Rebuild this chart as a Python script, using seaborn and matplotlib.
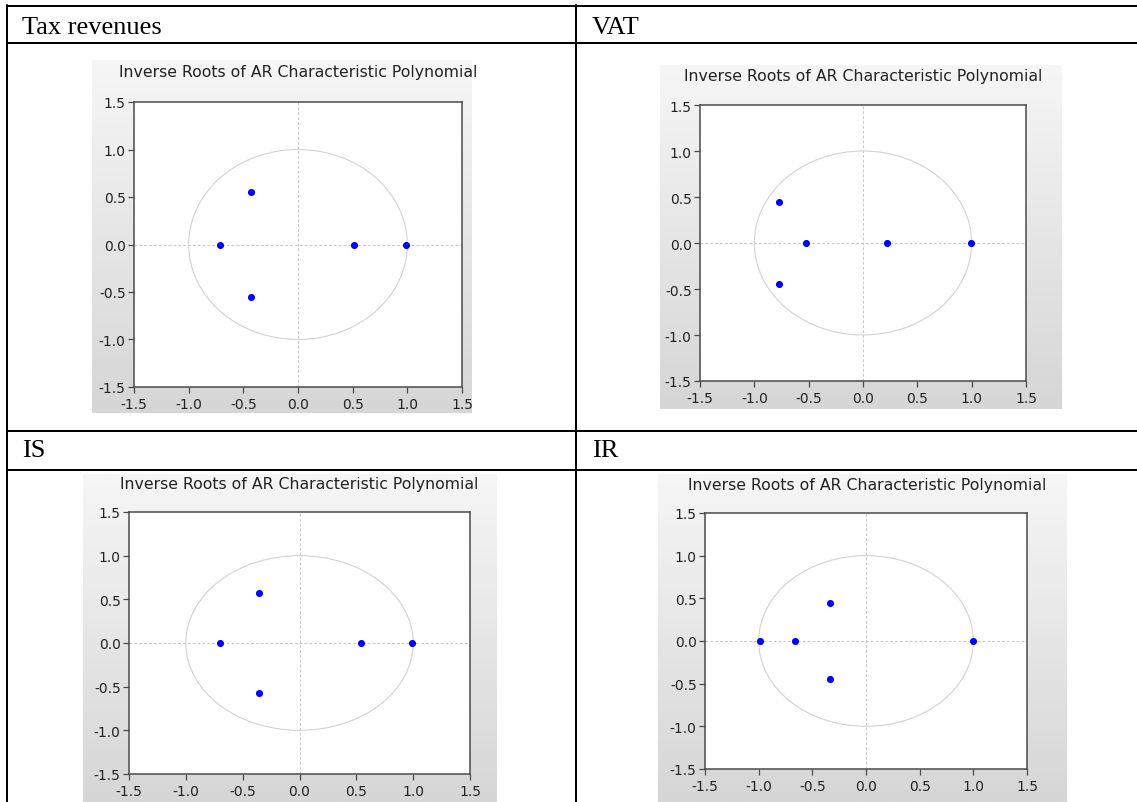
import numpy as np
import pandas as pd
import matplotlib
matplotlib.use("Agg")
import matplotlib.pyplot as plt
from matplotlib.lines import Line2D
from matplotlib.patches import Circle
from matplotlib.colors import LinearSegmentedColormap
import seaborn as sns

# ---- data (inverse roots: real / imaginary parts) ----
headers = ["Tax revenues", "VAT", "IS", "IR"]
tax_re = [-0.71, -0.43, -0.43, 0.51, 0.99]
tax_im = [0.0, 0.55, -0.55, 0.0, 0.0]
vat_re = [-0.77, -0.77, -0.52, 0.22, 0.99]
vat_im = [0.45, -0.45, 0.0, 0.0, 0.0]
is_re = [-0.70, -0.36, -0.36, 0.54, 0.99]
is_im = [0.0, 0.57, -0.57, 0.0, 0.0]
ir_re = [-0.99, -0.66, -0.34, -0.34, 1.0]
ir_im = [0.0, 0.0, 0.44, -0.44, 0.0]
tick_values = [-1.5, -1.0, -0.5, 0.0, 0.5, 1.0, 1.5]
tick_labels = ["-1.5", "-1.0", "-0.5", "0.0", "0.5", "1.0", "1.5"]
chart_title = "Inverse Roots of AR Characteristic Polynomial"

sns.set_style("white")
plt.rcParams["font.family"] = ["DejaVu Sans"]
plt.rcParams["axes.unicode_minus"] = False

W, H = 1137, 803
fig = plt.figure(figsize=(W / 100, H / 100), dpi=100)
fig.patch.set_facecolor("white")


def fx(x):
    return x / W


def fy(y):
    return 1 - y / H


def rect(x0, y0, x1, y1):
    return [fx(x0), fy(y1), (x1 - x0) / W, (y1 - y0) / H]


# ---- table lines ----
lw_tab = 2.0 * 72 / 100
for y in [6.7, 44.3, 431.5, 470.8]:
    fig.add_artist(Line2D([fx(7), 1.0], [fy(y), fy(y)], color="black", lw=lw_tab))
for x in [7, 576.3]:
    fig.add_artist(Line2D([fx(x), fx(x)], [fy(6), 0.0], color="black", lw=lw_tab))

header_pos = [(22, 28), (592, 28), (22, 451), (592, 451)]
for txt, (x, y) in zip(headers, header_pos):
    fig.text(fx(x), fy(y), txt, family="Liberation Serif", fontsize=19,
             ha="left", va="center", color="black")

# ---- panels ----
panels = [
    dict(bg=(92, 61, 472, 414), ax=(134, 103, 462, 388), title=(298, 72), re=tax_re, im=tax_im),
    dict(bg=(660, 66, 1062, 410), ax=(700, 106, 1026, 382), title=(863, 76), re=vat_re, im=vat_im),
    dict(bg=(83, 475, 496, 803), ax=(129, 513, 470, 775), title=(299, 485), re=is_re, im=is_im),
    dict(bg=(658, 475, 1066, 803), ax=(705, 514, 1027, 770), title=(867, 486), re=ir_re, im=ir_im),
]

grad = np.linspace(0, 1, 256).reshape(-1, 1)
gcmap = LinearSegmentedColormap.from_list("g", ["#f6f6f6", "#d6d6d6"])

for p in panels:
    bga = fig.add_axes(rect(*p["bg"]), zorder=0)
    bga.imshow(grad, aspect="auto", cmap=gcmap, extent=[0, 1, 1, 0])
    bga.set_axis_off()

    ax = fig.add_axes(rect(*p["ax"]), zorder=2)
    ax.set_facecolor("white")
    ax.set_xlim(-1.5, 1.5)
    ax.set_ylim(-1.5, 1.5)
    ax.axhline(0, color="#c8c8c8", lw=0.7, ls=(0, (3, 2)), zorder=1)
    ax.axvline(0, color="#c8c8c8", lw=0.7, ls=(0, (3, 2)), zorder=1)
    ax.add_patch(Circle((0, 0), 1.0, fill=False, ec="#d2d2d2", lw=0.8, zorder=1))
    df = pd.DataFrame({"re": p["re"], "im": p["im"]})
    sns.scatterplot(data=df, x="re", y="im", ax=ax, color="#0000ff", s=26,
                    linewidth=0, marker="o", zorder=3)
    ax.set_xlabel("")
    ax.set_ylabel("")
    ax.set_xticks(tick_values)
    ax.set_xticklabels(tick_labels)
    ax.set_yticks(tick_values)
    ax.set_yticklabels(tick_labels)
    for s in ax.spines.values():
        s.set_color("#4a4a4a")
        s.set_linewidth(1.1)
    ax.tick_params(axis="both", which="both", direction="out", length=4, width=0.9,
                   color="#4a4a4a", labelsize=10, labelcolor="#222222", pad=2,
                   bottom=True, left=True, top=False, right=False)
    ax.tick_params(axis="x", pad=3.5)
    fig.text(fx(p["title"][0]), fy(p["title"][1]), chart_title, fontsize=11.3,
             ha="center", va="center", color="#222222")

fig.savefig("out.png", dpi=100, facecolor="white")
